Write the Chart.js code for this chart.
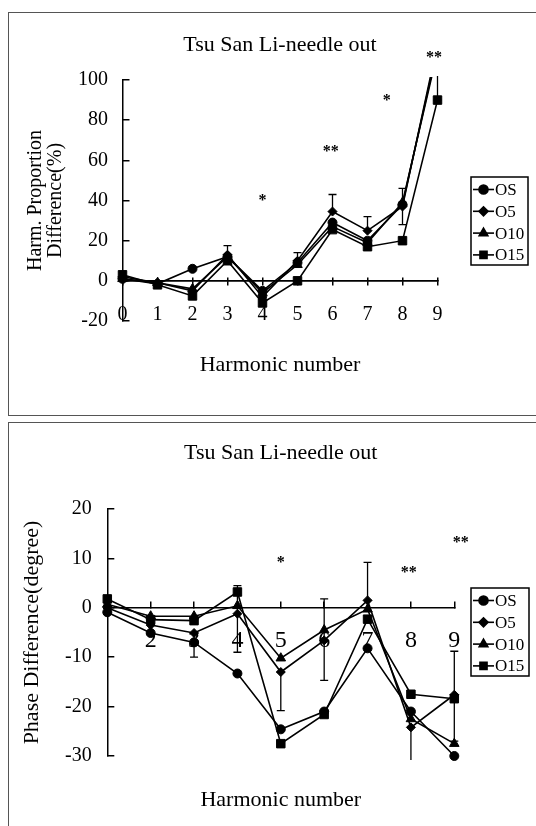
<!DOCTYPE html>
<html>
<head>
<meta charset="utf-8">
<script src="https://cdn.jsdelivr.net/npm/chart.js@4.4.1/dist/chart.umd.min.js"></script>
<style>
  body { margin: 0; background: #fff; }
  #page { position: relative; width: 536px; height: 826px; overflow: hidden; }
  canvas { position: absolute; left: 0; }
  #topChart { top: 0; }
  #bottomChart { top: 418px; }
  .frame { position: absolute; border: 0 solid #555; }
</style>
</head>
<body>
<div id="page">
  <div class="frame" style="left:8px; top:12px; width:540px; height:402px; border-width:1px 0 1px 1px;"></div>
  <div class="frame" style="left:8px; top:422px; width:540px; height:420px; border-width:1px 0 0 1px;"></div>
  <canvas id="topChart" width="536" height="418"></canvas>
  <canvas id="bottomChart" width="536" height="408"></canvas>
</div>
<script>
const seriesNames = ['OS', 'O5', 'O10', 'O15'];
const markerStyles = ['circle', 'rectRot', 'triangle', 'rect'];
const markerSizes = [4.5, 4.5, 5.5, 6];

// top chart: harmonic proportion difference (%)
const harmonicsTop = [0, 1, 2, 3, 4, 5, 6, 7, 8, 9];
const topTickLabels = ['0', '1', '2', '3', '4', '5', '6', '7', '8', '9'];
const propOS  = [1, -1.5, 6, 12, -5, 9, 29, 20, 38, 116];
const propO5  = [2, -1, -5, 13, -8, 10, 34.5, 25, 37, 118];
const propO10 = [1, -1, -4, 12, -6, 8, 27, 19, 39, 114];
const propO15 = [3, -2, -7.5, 10, -11, 0, 25.5, 17, 20, 90];
const propErrLow  = [null, null, null, 12, null, 10, 34.5, 25, 28, 90];
const propErrHigh = [null, null, null, 17.5, null, 14, 43, 32, 46, 106];
const propStarX = [4, 5.95, 7.55, 8.9];
const propStarY = [42, 66, 91.5, 113];
const propStarText = ['*', '**', '*', '**'];

// bottom chart: phase difference (degree)
const harmonicsBottom = [1, 2, 3, 4, 5, 6, 7, 8, 9];
const bottomTickLabels = ['', '2', '3', '4', '5', '6', '7', '8', '9'];
const phaseOS  = [-0.9, -5.1, -7, -13.3, -24.6, -21, -8.2, -21, -30];
const phaseO5  = [0, -3.5, -5.1, -1.2, -13, -6.6, 1.5, -24.2, -17.6];
const phaseO10 = [0.7, -1.7, -1.7, 0.4, -10.2, -4.5, -0.3, -22.5, -27.5];
const phaseO15 = [1.8, -2.4, -2.6, 3.2, -27.5, -21.6, -2.3, -17.5, -18.4];
const phaseErrLow  = [null, null, -10, -9, -20.8, -14.7, 1.5, -31, -27];
const phaseErrHigh = [null, null, -5.1, 4.5, -13, 1.8, 9.2, -24.2, -8.8];
const phaseStarX = [5, 7.95, 9.15];
const phaseStarY = [10, 7.9, 14];
const phaseStarText = ['*', '**', '**'];

Chart.defaults.font.family = '"Liberation Serif", "Times New Roman", serif';
Chart.defaults.color = '#000';

function makeDatasets(xs, seriesList, clip) {
  return seriesList.map((ys, i) => ({
    label: seriesNames[i],
    data: xs.map((x, j) => ({ x: x, y: ys[j] })),
    xAxisID: 'x',
    yAxisID: 'y',
    borderColor: '#000',
    backgroundColor: '#000',
    borderWidth: 1.6,
    pointStyle: markerStyles[i],
    pointRadius: markerSizes[i],
    pointBorderWidth: 1,
    tension: 0,
    fill: false,
    clip: clip
  }));
}

function errorBarPlugin(xs, lows, highs, pad) {
  return {
    id: 'errorBars',
    beforeDatasetsDraw(chart) {
      const { ctx, chartArea } = chart;
      const x = chart.scales.x, y = chart.scales.y;
      ctx.save();
      ctx.beginPath();
      ctx.rect(chartArea.left - 10, chartArea.top - pad.top, chartArea.width + 20, chartArea.height + pad.top + pad.bottom);
      ctx.clip();
      ctx.strokeStyle = '#000';
      ctx.lineWidth = 1.3;
      xs.forEach((xv, i) => {
        if (lows[i] == null) return;
        const px = x.getPixelForValue(xv);
        const y1 = y.getPixelForValue(lows[i]);
        const y2 = y.getPixelForValue(highs[i]);
        ctx.beginPath();
        ctx.moveTo(px, y1); ctx.lineTo(px, y2);
        ctx.moveTo(px - 4, y1); ctx.lineTo(px + 4, y1);
        ctx.moveTo(px - 4, y2); ctx.lineTo(px + 4, y2);
        ctx.stroke();
      });
      ctx.restore();
    }
  };
}

function starPlugin(xs, ys, texts) {
  return {
    id: 'stars',
    afterDraw(chart) {
      const ctx = chart.ctx;
      ctx.save();
      ctx.font = 'bold 16px "Liberation Serif"';
      ctx.fillStyle = '#000';
      ctx.textAlign = 'center';
      ctx.textBaseline = 'middle';
      texts.forEach((t, i) => {
        ctx.fillText(t, chart.scales.x.getPixelForValue(xs[i]), chart.scales.y.getPixelForValue(ys[i]) + 4);
      });
      ctx.restore();
    }
  };
}

function boxLegendPlugin(box) {
  return {
    id: 'boxLegend',
    afterDraw(chart) {
      const ctx = chart.ctx;
      ctx.save();
      ctx.strokeStyle = '#000';
      ctx.fillStyle = '#000';
      ctx.lineWidth = 1.5;
      ctx.strokeRect(box.left, box.top, box.width, box.height);
      ctx.font = '17px "Liberation Serif"';
      ctx.textBaseline = 'middle';
      chart.data.datasets.forEach((ds, i) => {
        const cy = box.top + 12.5 + i * 21.8;
        ctx.lineWidth = 1.6;
        ctx.beginPath();
        ctx.moveTo(box.left + 2, cy);
        ctx.lineTo(box.left + 23, cy);
        ctx.stroke();
        Chart.helpers.drawPoint(ctx, { pointStyle: ds.pointStyle, radius: Math.min(ds.pointRadius, 5), rotation: 0, borderWidth: 1 }, box.left + 12.5, cy);
        ctx.fillText(ds.label, box.left + 24, cy + 1);
      });
      ctx.restore();
    }
  };
}

const titleFont = { size: 22, weight: 'normal' };

new Chart(document.getElementById('topChart'), {
  type: 'line',
  data: { datasets: makeDatasets(harmonicsTop, [propOS, propO5, propO10, propO15], { left: 10, top: 3, right: 10, bottom: 10 }) },
  options: {
    responsive: false,
    animation: false,
    events: [],
    layout: { padding: { left: 0, right: 98.5, top: 0, bottom: 39.8 } },
    plugins: {
      legend: { display: false },
      tooltip: { enabled: false },
      title: { display: true, fullSize: false, text: 'Tsu San Li-needle out', color: '#000', font: titleFont, padding: { top: 31.8, bottom: 21.8 } }
    },
    scales: {
      x: {
        axis: 'x', type: 'linear', position: { y: -20 }, min: 0, max: 9,
        ticks: { stepSize: 1, autoSkip: false, maxRotation: 0, padding: -18, color: '#000', font: { size: 20 }, callback: (v, i) => topTickLabels[i] },
        grid: { display: false, drawTicks: false },
        border: { display: false }
      },
      xb: {
        axis: 'x', type: 'linear', position: 'bottom', min: 0, max: 9,
        afterFit: (s) => { s.height = 57.2; },
        ticks: { display: false },
        grid: { display: false, drawTicks: false },
        border: { display: false },
        title: { display: true, text: 'Harmonic number', color: '#000', font: { size: 22 }, padding: { top: 0, bottom: 0 } }
      },
      x0: {
        axis: 'x', type: 'linear', position: { y: 0 }, min: 0, max: 9,
        ticks: { display: false, stepSize: 1 },
        grid: { drawOnChartArea: false, tickLength: 4, color: '#000', lineWidth: 1.5 },
        border: { display: true, color: '#000', width: 1.5 }
      },
      x0u: {
        axis: 'x', type: 'linear', position: { y: 0 }, min: 0, max: 9,
        ticks: { display: false, stepSize: 1 },
        grid: { drawOnChartArea: false, tickLength: -4, color: '#000', lineWidth: 1.5 },
        border: { display: true, color: '#000', width: 1.5 }
      },
      y: {
        type: 'linear', position: 'left', min: -20, max: 100,
        afterFit: (s) => { s.width = 122.5; },
        ticks: { stepSize: 20, padding: 21.5, color: '#000', font: { size: 20 } },
        grid: { drawOnChartArea: false, tickLength: -7, color: '#000', lineWidth: 1.5 },
        border: { color: '#000', width: 1.5 },
        title: { display: true, text: ['Harm. Proportion', 'Difference(%)'], color: '#000', font: { size: 20, lineHeight: 1.0 }, padding: { top: 26, bottom: 0 } }
      }
    }
  },
  plugins: [
    errorBarPlugin(harmonicsTop, propErrLow, propErrHigh, { top: 4, bottom: 4 }),
    starPlugin(propStarX, propStarY, propStarText),
    boxLegendPlugin({ left: 471, top: 177, width: 57, height: 88 })
  ]
});

new Chart(document.getElementById('bottomChart'), {
  type: 'line',
  data: { datasets: makeDatasets(harmonicsBottom, [phaseOS, phaseO5, phaseO10, phaseO15], { left: 10, top: 10, right: 10, bottom: 10 }) },
  options: {
    responsive: false,
    animation: false,
    events: [],
    layout: { padding: { left: 0, right: 81.7, top: 0, bottom: 12.8 } },
    plugins: {
      legend: { display: false },
      tooltip: { enabled: false },
      title: { display: true, fullSize: false, text: 'Tsu San Li-needle out', color: '#000', font: titleFont, padding: { top: 21.8, bottom: 42.8 } }
    },
    scales: {
      x: {
        axis: 'x', type: 'linear', position: { y: 0 }, min: 1, max: 9,
        ticks: { stepSize: 1, autoSkip: false, maxRotation: 0, padding: 25.3, color: '#000', font: { size: 24 }, callback: (v, i) => bottomTickLabels[i] },
        grid: { drawOnChartArea: false, tickLength: -7, color: '#000', lineWidth: 1.5 },
        border: { display: true, color: '#000', width: 1.5 }
      },
      xb: {
        axis: 'x', type: 'linear', position: 'bottom', min: 1, max: 9,
        afterFit: (s) => { s.height = 57.2; },
        ticks: { display: false },
        grid: { display: false, drawTicks: false },
        border: { display: false },
        title: { display: true, text: 'Harmonic number', color: '#000', font: { size: 22 }, padding: { top: 0, bottom: 0 } }
      },
      y: {
        type: 'linear', position: 'left', min: -30, max: 20,
        afterFit: (s) => { s.width = 107.3; },
        ticks: { stepSize: 10, padding: 22.6, color: '#000', font: { size: 20 } },
        grid: { drawOnChartArea: false, tickLength: -7, color: '#000', lineWidth: 1.5 },
        border: { color: '#000', width: 1.5 },
        title: { display: true, text: 'Phase Difference(degree)', color: '#000', font: { size: 22, lineHeight: 1.0 }, padding: { top: 21.5, bottom: 0 } }
      }
    }
  },
  plugins: [
    errorBarPlugin(harmonicsBottom, phaseErrLow, phaseErrHigh, { top: 4, bottom: 4 }),
    starPlugin(phaseStarX, phaseStarY, phaseStarText),
    boxLegendPlugin({ left: 471, top: 170, width: 58, height: 88 })
  ]
});
</script>
</body>
</html>
